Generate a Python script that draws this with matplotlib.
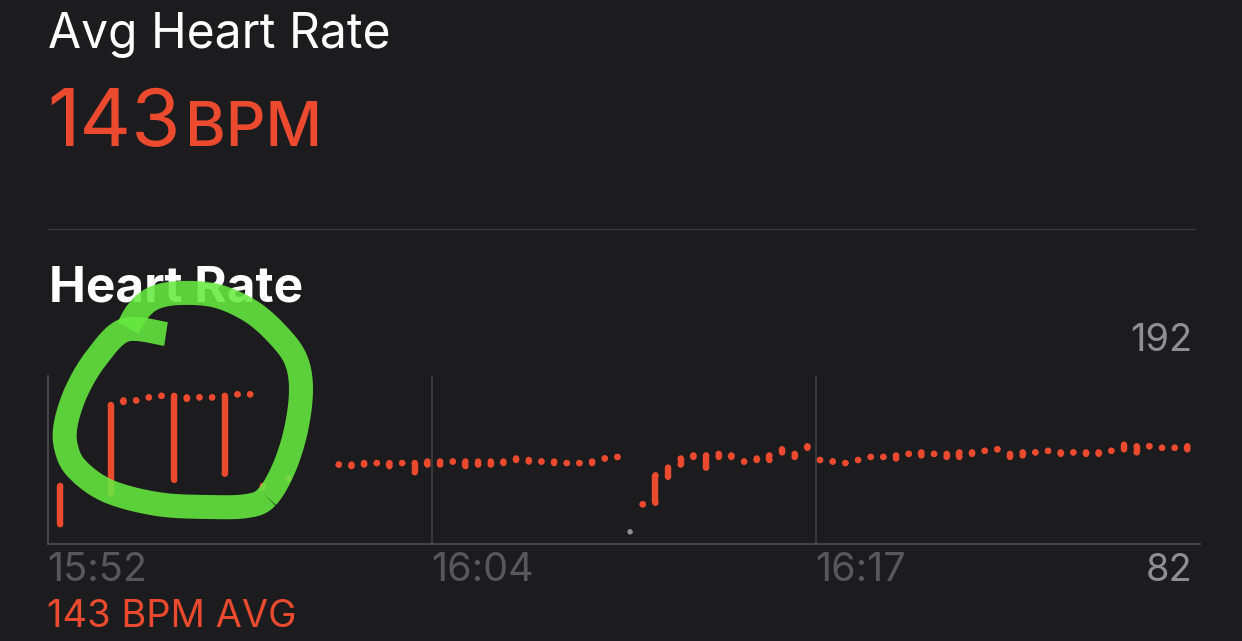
import numpy as np
import matplotlib
matplotlib.use("Agg")
import matplotlib.pyplot as plt

# ---------------- data ----------------
title_top = "Avg Heart Rate"
avg_value = "143"
avg_unit = "BPM"
section_title = "Heart Rate"
avg_footer = "143 BPM AVG"
y_max_label = "192"
y_min_label = "82"
tick_labels = ["15:52", "16:04", "16:17"]

# sample slots (25 s apart) and min / max BPM in each slot
slots = [0, 4, 5, 6, 7, 8, 9, 10, 11, 12, 13, 14, 15, 16, 18,
         22, 23, 24, 25, 26, 27, 28, 29, 30, 31, 32, 33, 34, 35, 36, 37, 38, 39,
         40, 41, 42, 43, 44,
         46, 47, 48, 49, 50, 51, 52, 53, 54, 55, 56, 57, 58, 59,
         60, 61, 62, 63, 64, 65, 66, 67, 68, 69, 70, 71, 72, 73, 74, 75, 76, 77,
         78, 79, 80, 81, 82, 83, 84, 85, 86, 87, 88, 89]
bpm_lo = [95, 115, 175, 176, 178, 179, 124, 177, 178, 178, 128, 180, 180, 119, 125,
          134, 133, 134, 135, 133, 135, 129, 134, 134, 136, 133, 134, 134, 135, 137, 136, 136, 135,
          135, 135, 135, 138, 139,
          108, 109, 126, 134, 139, 132, 139, 139, 136, 137, 137, 142, 139, 145,
          137, 136, 135, 137, 139, 139, 138, 141, 140, 141, 139, 139, 141, 143, 144, 139, 140, 142,
          143, 141, 142, 141, 141, 143, 144, 142, 146, 145, 145, 144]
bpm_hi = [120, 173, 176, 176, 178, 179, 179, 178, 178, 178, 179, 180, 180, 120, 125,
          134, 134, 135, 135, 135, 135, 135, 136, 136, 136, 136, 136, 136, 136, 138, 137, 136, 136,
          135, 135, 136, 138, 139,
          108, 127, 132, 138, 140, 140, 141, 140, 136, 138, 140, 144, 141, 146,
          137, 136, 135, 137, 139, 139, 140, 141, 142, 141, 141, 142, 142, 143, 144, 141, 142, 142,
          143, 142, 142, 142, 142, 143, 147, 146, 146, 145, 145, 146]
outlier_slot = [45]
outlier_bpm = [90]

SAMPLE_STEP_S = 25
FIRST_SAMPLE_S = 24
AXIS_SPAN_S = 2274
Y_MIN, Y_MAX = 82, 192

# ---------------- style ----------------
BG = "#1c1c1e"
RED = "#ec4a2f"
GRID = "#3a3a3c"
SPINE = "#48484a"
LIGHT_GRAY = "#8e8e93"
DARK_GRAY = "#58585c"
GREEN = "#66ea40"
FONT = ["Inter", "DejaVu Sans"]

W, H = 1242, 641
fig = plt.figure(figsize=(W / 100, H / 100), dpi=100, facecolor=BG)


def fx(px):
    return px / W


def fy(py):
    return 1 - py / H


def px2pt(px):
    return px * 72 / 100


# header texts
fig.text(fx(48), fy(48), title_top, color="white", fontsize=px2pt(48), family=FONT,
         va="baseline", ha="left")
fig.text(fx(47), fy(146), avg_value, color=RED, fontsize=px2pt(80), family=FONT,
         va="baseline", ha="left", fontweight="normal")
fig.text(fx(185), fy(146), avg_unit, color=RED, fontsize=px2pt(62), family=FONT,
         va="baseline", ha="left", fontweight="medium")

# separator
fig.add_artist(plt.Line2D([fx(48), fx(1194)], [fy(228.5), fy(228.5)], color=GRID, lw=1.0))

fig.text(fx(49), fy(302), section_title, color="white", fontsize=px2pt(49.5), family=FONT,
         va="baseline", ha="left", fontweight="bold")

fig.text(fx(1193), fy(351), y_max_label, color=LIGHT_GRAY, fontsize=px2pt(38), family=FONT,
         va="baseline", ha="right")
fig.text(fx(1193), fy(581), y_min_label, color=LIGHT_GRAY, fontsize=px2pt(38), family=FONT,
         va="baseline", ha="right")
fig.text(fx(47), fy(627), avg_footer, color=RED, fontsize=px2pt(38), family=FONT,
         va="baseline", ha="left")

# ---------------- chart axes ----------------
ax_l, ax_r, ax_t, ax_b = 48, 1200, 376, 544
ax = fig.add_axes([fx(ax_l), fy(ax_b), (ax_r - ax_l) / W, (ax_b - ax_t) / H])
ax.set_facecolor("none")
ax.set_xlim(0, AXIS_SPAN_S)
ax.set_ylim(Y_MIN, Y_MAX)
for s in ["top", "right"]:
    ax.spines[s].set_visible(False)
ax.spines["left"].set_color(SPINE)
ax.spines["bottom"].set_color(SPINE)
ax.spines["left"].set_linewidth(1.4)
ax.spines["bottom"].set_linewidth(1.4)
ax.set_yticks([])
ticks = [AXIS_SPAN_S * i / 3 for i in range(3)]
ax.set_xticks(ticks)
ax.set_xticklabels([])
ax.tick_params(length=0)
for t in ticks[1:]:
    ax.axvline(t, color=GRID, lw=1.4, zorder=0)
# tick labels as figure text anchored at tick pixel positions
for t, lab in zip(ticks, tick_labels):
    xpix = ax_l + (ax_r - ax_l) * t / AXIS_SPAN_S
    fig.text(fx(xpix - 1), fy(581), lab, color=DARK_GRAY, fontsize=px2pt(39.5), family=FONT,
             va="baseline", ha="left")

xs = np.array([FIRST_SAMPLE_S + SAMPLE_STEP_S * s for s in slots], dtype=float)
lo = np.array(bpm_lo, dtype=float)
hi = np.array(bpm_hi, dtype=float)
DOT_PX = 6.4
lw = px2pt(DOT_PX)
ax.vlines(xs, lo, hi, color=RED, lw=lw, capstyle="butt", zorder=3)
ax.scatter(xs, lo, s=lw ** 2, color=RED, edgecolors="none", zorder=3)
ax.scatter(xs, hi, s=lw ** 2, color=RED, edgecolors="none", zorder=3)

ox = [FIRST_SAMPLE_S + SAMPLE_STEP_S * s for s in outlier_slot]
ax.scatter(ox, outlier_bpm, s=px2pt(5.5) ** 2, color=LIGHT_GRAY, edgecolors="none", zorder=3)

# ---------------- hand-drawn green annotation ----------------
ring_px = [(166, 334), (125, 330), (97, 357), (77, 390), (66, 423), (66, 447),
           (77, 469), (108, 491), (157, 504), (207, 507), (247, 506), (267, 497),
           (284, 468), (296, 430), (301, 390), (296, 360), (279, 336), (252, 312),
           (217, 296), (180, 293), (154, 298), (138, 311), (128, 328)]


def catmull(pts, n=20):
    p = np.array(pts, dtype=float)
    p = np.vstack([p[0], p, p[-1]])
    out = []
    for i in range(1, len(p) - 2):
        p0, p1, p2, p3 = p[i - 1], p[i], p[i + 1], p[i + 2]
        for tt in np.linspace(0, 1, n, endpoint=False):
            t2, t3 = tt * tt, tt * tt * tt
            out.append(0.5 * ((2 * p1) + (-p0 + p2) * tt +
                              (2 * p0 - 5 * p1 + 4 * p2 - p3) * t2 +
                              (-p0 + 3 * p1 - 3 * p2 + p3) * t3))
    out.append(p[-2])
    return np.array(out)


curve = catmull(ring_px)
half = len(curve) // 2
for seg in (curve[:half + 1], curve[half:]):
    fig.add_artist(plt.Line2D(seg[:, 0] / W, 1 - seg[:, 1] / H, color=GREEN, lw=px2pt(24),
                              alpha=0.88, solid_capstyle="butt", solid_joinstyle="round",
                              zorder=10))

fig.savefig("out.png", dpi=100, facecolor=BG)
